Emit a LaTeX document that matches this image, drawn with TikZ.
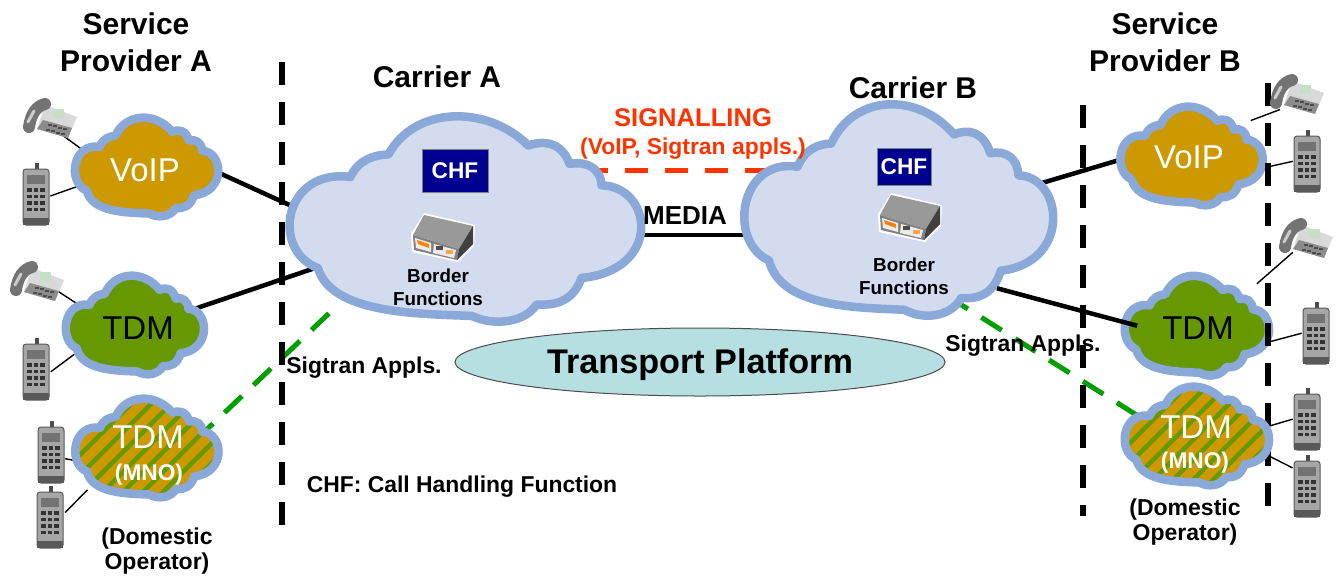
\documentclass[tikz,border=0pt]{standalone}
\usepackage{fontspec}
\setmainfont{Liberation Sans}
\usetikzlibrary{backgrounds,shapes.geometric}

\definecolor{ringblue}{HTML}{8AA8D8}
\definecolor{carrierfill}{HTML}{D2DCEE}
\definecolor{voipfill}{HTML}{CC9900}
\definecolor{tdmfill}{HTML}{669900}
\definecolor{platformfill}{HTML}{B5DFE0}
\definecolor{chfblue}{HTML}{000090}
\definecolor{signalred}{HTML}{FF3300}
\definecolor{sigtrangreen}{HTML}{009F00}

\newcommand{\cloudpath}{(-.856,-.48) .. controls (-1.13,-.3) and (-1.05,.5) .. (-.667,.412)
	.. controls (-.62,.58) and (-.53,.63) .. (-.446,.633)
	.. controls (-.3,1.1) and (.12,1.13) .. (.362,.72)
	.. controls (.46,.78) and (.56,.74) .. (.6,.54)
	.. controls (.7,.57) and (.78,.5) .. (.785,.33)
	.. controls (1.08,.32) and (1.14,-.5) .. (.67,-.578)
	.. controls (.62,-.8) and (.53,-.85) .. (.41,-.838)
	.. controls (.34,-1.02) and (.16,-1.05) .. (.035,-.95)
	.. controls (-.3,-.93) and (-.78,-.92) .. cycle}

% name, centre, half width, half height, fill
\newcommand{\cloudat}[5]{
	\filldraw [shift={(#2)},xscale=#3,yscale=-#4,draw=ringblue,fill=#5,line width=8.5pt,line join=round] \cloudpath;
	\node [minimum width={1.68*#3},minimum height={1.7*#4},inner sep=0] at (#2) (#1) {};
}
\newcommand{\stripedcloudat}[4]{
	\begin{scope}[shift={(#2)}]
		\clip [xscale=#3,yscale=-#4] \cloudpath;
		\fill [voipfill] (-100,-100) rectangle (100,100);
		\foreach \s in {-160,-140,...,160}
			\draw [tdmfill,line width=4.5pt] (\s-70,70) -- (\s+70,-70);
	\end{scope}
	\draw [shift={(#2)},xscale=#3,yscale=-#4,draw=ringblue,line width=8.5pt,line join=round] \cloudpath;
	\node [minimum width={1.68*#3},minimum height={1.7*#4},inner sep=0] at (#2) (#1) {};
}

\tikzset{
	deskphone/.style={minimum width=56pt,minimum height=44pt,inner sep=0,path picture={
		\begin{scope}[shift={(path picture bounding box.center)}]
			\fill [gray!30] (-5,-13) -- (27,-1) -- (18,20) -- (-13,11) -- cycle;
			\fill [gray!90] (-7,2) -- (22,10) -- (18,20) -- (-13,11) -- cycle;
			\fill [green!25!gray!35] (3,-9) rectangle (14,0);
			\foreach \a in {0,1,2,3} \foreach \b in {0,1}
				\fill [black!70] (-2+5*\a+\b*-2,6+1.3*\a+\b*5) rectangle ++(3.5,2);
			\draw [black!55,line width=12pt,line cap=round] (-21,9) .. controls (-19,-5) and (-13,-12) .. (-5,-14);
			\draw [gray!40,line width=3pt,line cap=round] (-22,4) -- (-16,-7);
		\end{scope}}},
	cellphone/.style={minimum width=34pt,minimum height=68pt,inner sep=0,path picture={
		\begin{scope}[shift={(path picture bounding box.center)},rotate=6]
			\fill [black!70] (-1,-32) rectangle (3,-24);
			\filldraw [draw=black!65,fill=gray!70,rounded corners=3pt,line width=1pt] (-13,-26) rectangle (13,30);
			\fill [black!55] (-9,-20) rectangle (9,-11);
			\foreach \a in {0,1,2} \foreach \b in {0,1,2,3}
				\fill [black!80] (-9+6.5*\a,-7+6.5*\b) rectangle ++(4.5,3.5);
			\fill [black!65] (-13,23) rectangle (13,30);
		\end{scope}}},
	routerbox/.style={minimum width=66pt,minimum height=52pt,inner sep=0,path picture={
		\begin{scope}[shift={(path picture bounding box.center)}]
			\fill [white] (-18,-24) -- (33,-12) -- (32,9) -- (16,25) -- (-30,15) -- (-31,-3) -- cycle;
			\fill [gray!80] (-18,-22) -- (31,-11) -- (17,12) -- (-29,-2) -- cycle;
			\fill [gray] (-29,-2) -- (17,12) -- (15,23) -- (-28,13) -- cycle;
			\fill [black!75] (31,-11) -- (17,12) -- (15,23) -- (31,7) -- cycle;
			\fill [white!85!gray] (-27,1) -- (-11,6) -- (-11,15) -- (-26,11) -- cycle;
			\fill [orange] (-25,3) -- (-13,7) -- (-13,11) -- (-24,7) -- cycle;
			\fill [white!85!gray] (-8,7) -- (14,13) -- (12,21) -- (-9,16) -- cycle;
			\fill [black!70] (-6,9) rectangle (1,13);
			\fill [orange!70] (4,13) rectangle (11,17);
		\end{scope}}},
	titletext/.style={align=center,inner sep=0,font=\fontsize{30}{37}\selectfont\bfseries},
	smalltext/.style={align=center,inner sep=0,font=\fontsize{22.9}{26}\selectfont\bfseries},
	bordertext/.style={align=center,inner sep=0,font=\fontsize{18.8}{23}\selectfont\bfseries},
	cloudtext/.style={inner sep=0,font=\fontsize{33}{38}\selectfont},
	subtext/.style={inner sep=0,text=white,font=\fontsize{22.7}{26}\selectfont\bfseries},
	operatortext/.style={align=center,inner sep=0,font=\fontsize{23}{25}\selectfont\bfseries},
	chfbox/.style={draw=gray,line width=1pt,fill=chfblue,text=white,inner sep=0,font=\fontsize{22.7}{26}\selectfont\bfseries},
	separator/.style={line width=5.5pt,dash pattern=on 23pt off 17pt},
	trunk/.style={line width=4.5pt},
	sigtran/.style={sigtrangreen,line width=5pt,dash pattern=on 24pt off 16pt},
	phoneline/.style={line width=1.4pt,shorten <=-3pt},
	deskline/.style={line width=1.4pt,shorten <=-12pt}
}

\begin{document}
\begin{tikzpicture}[x=1pt,y=-1pt]
	\useasboundingbox (0,0) rectangle (1341,576);

	\coordinate (sep 1 top) at (282,62);
	\coordinate (sep 1 bottom) at (282,526);
	\coordinate (sep 2 top) at (1083,105);
	\coordinate (sep 2 bottom) at (1083,516);
	\coordinate (sep 3 top) at (1268,83);
	\coordinate (sep 3 bottom) at (1268,506);

	\cloudat{carrierA}{465.7,219}{173}{102}{carrierfill}
	\cloudat{carrierB}{899,210}{152}{105}{carrierfill}
	\cloudat{voipA}{146.7,167}{70.5}{49}{voipfill}
	\cloudat{tdmA}{135,325}{68}{49}{tdmfill}
	\stripedcloudat{mnoA}{147,448}{70.5}{49}
	\cloudat{voipB}{1191.7,156}{70}{49}{voipfill}
	\cloudat{tdmB}{1197,325.7}{71}{49.5}{tdmfill}

	\draw [separator] (sep 1 top) -- (sep 1 bottom);
	\draw [separator] (sep 2 top) -- (sep 2 bottom);
	\draw [separator] (sep 3 top) -- (sep 3 bottom);

	\stripedcloudat{mnoB}{1197,436}{71}{49}

	\node [ellipse,draw=black!70,line width=1pt,fill=platformfill,minimum width=490pt,minimum height=68pt,inner sep=0,text height=30pt,text depth=7pt,font=\fontsize{34.2}{38}\selectfont\bfseries] at (700,362) (platform) {Transport Platform};

	\node [deskphone] at (50,118) (deskA 1) {};
	\node [cellphone] at (36,195) (cellA 1) {};
	\node [deskphone] at (37,281) (deskA 2) {};
	\node [cellphone] at (36,370) (cellA 2) {};
	\node [cellphone] at (51,453) (cellA 3) {};
	\node [cellphone] at (50,518) (cellA 4) {};
	\node [deskphone] at (1297,94) (deskB 1) {};
	\node [cellphone] at (1307,162) (cellB 1) {};
	\node [deskphone] at (1306,238) (deskB 2) {};
	\node [cellphone] at (1316,334) (cellB 2) {};
	\node [cellphone] at (1307,420) (cellB 3) {};
	\node [cellphone] at (1307,487) (cellB 4) {};

	\node [routerbox] at (442,237) (routerA) {};
	\node [routerbox] at (909,217) (routerB) {};
	\node [chfbox,minimum width=66pt,minimum height=43pt] at (455,170.5) (chfA) {CHF};
	\node [chfbox,minimum width=54pt,minimum height=37pt] at (904,167) (chfB) {CHF};

	\begin{scope}[on background layer]
		\draw [trunk] (voipA.east) -- (carrierA.west);
		\draw [trunk] (tdmA.15) -- (carrierA.198.5);
		\draw [trunk] ([yshift=-16pt]carrierA.east) -- ([yshift=-25pt]carrierB.west);
		\draw [trunk] (carrierB.10.6) -- (voipB.west);

		\draw [signalred,line width=5pt,dash pattern=on 23pt off 17pt,dash phase=13pt,shorten <=-13pt] ([yshift=49pt]carrierA.east) -- ([yshift=40pt]carrierB.west);
		\draw [sigtran,dash phase=15pt] (mnoA.17) -- (carrierA.214.6);
		\draw [sigtran] (mnoB.161) -- (carrierB.-59);

		\draw [deskline] (deskA 1.-49) -- (voipA.167);
		\draw [phoneline] (cellA 1.east) -- (voipA.195.5);
		\draw [deskline] (deskA 2.-28) -- (tdmA.160.7);
		\draw [phoneline] (cellA 2.east) -- (tdmA.205);
		\draw [phoneline] (cellA 3.-20) -- (mnoA.194);
		\draw [phoneline] (cellA 4.24) -- (mnoA.south west);
		\draw [deskline] (deskB 1.215.3) -- (voipB.31.5);
		\draw [phoneline] (cellB 1.west) -- (voipB.-14);
		\draw [deskline] (deskB 2.225) -- (tdmB.35);
		\draw [phoneline] (cellB 2.west) -- (tdmB.-18.4);
		\draw [phoneline] (cellB 3.west) -- (mnoB.6);
		\draw [phoneline] (cellB 4.130) -- (mnoB.-13);
	\end{scope}

	\draw [trunk,shorten <=-31pt] (carrierB.-34) -- (tdmB.west);

	\node [titletext] at (136,42) (providerA) {Service\\Provider A};
	\node [titletext] at (1165,42) (providerB) {Service\\Provider B};
	\node [titletext] at (437,77) (nameA) {Carrier A};
	\node [titletext] at (913,88) (nameB) {Carrier B};

	\node [inner sep=0,text=signalred,font=\fontsize{25.6}{30}\selectfont\bfseries] at (693,118) (signalling) {SIGNALLING};
	\node [inner sep=0,text=signalred,font=\fontsize{22.9}{26}\selectfont\bfseries] at (693,149) (signallingapps) {(VoIP, Sigtran appls.)};
	\node [inner sep=0,font=\fontsize{26}{30}\selectfont\bfseries] at (685,216) (media) {MEDIA};

	\node [bordertext] at (438,287) (borderA) {Border\\Functions};
	\node [bordertext] at (904,276.5) (borderB) {Border\\Functions};

	\node [cloudtext,text=white] at (145,170) (voipAtext) {VoIP};
	\node [cloudtext] at (138,328) (tdmAtext) {TDM};
	\node [cloudtext,text=white] at (148,437) (mnoAtext) {TDM};
	\node [subtext] at (149,474.5) (mnoAsub) {(MNO)};
	\node [cloudtext,text=white] at (1189,157) (voipBtext) {VoIP};
	\node [cloudtext] at (1198,328) (tdmBtext) {TDM};
	\node [cloudtext,text=white] at (1196,427) (mnoBtext) {TDM};
	\node [subtext] at (1195,462.5) (mnoBsub) {(MNO)};

	\node [smalltext] at (364,368) (sigtranA) {Sigtran Appls.};
	\node [smalltext] at (1023,346) (sigtranB) {Sigtran Appls.};
	\node [smalltext] at (462,487) (chflegend) {CHF: Call Handling Function};

	\node [operatortext] at (157,551) (domesticA) {(Domestic\\ Operator)};
	\node [operatortext] at (1185,522) (domesticB) {(Domestic\\ Operator)};
\end{tikzpicture}
\end{document}
